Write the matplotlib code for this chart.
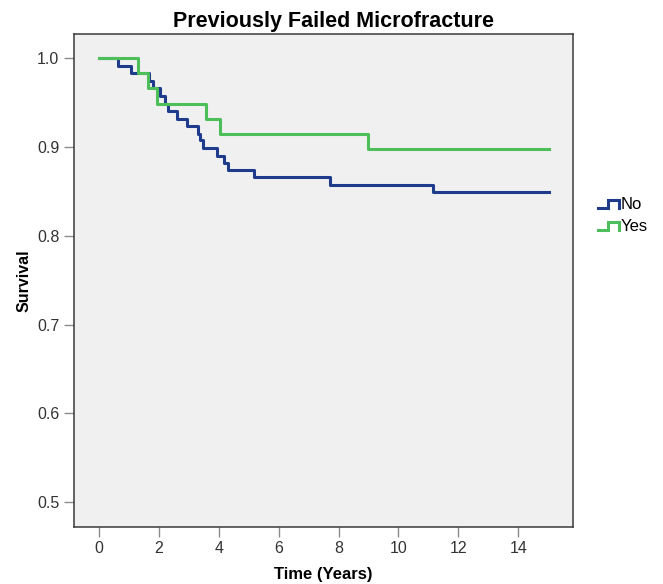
import numpy as np
import matplotlib
matplotlib.use("Agg")
import matplotlib.pyplot as plt
from matplotlib.legend_handler import HandlerBase
from matplotlib.lines import Line2D

plt.rcParams['font.family'] = ['Liberation Sans', 'DejaVu Sans']

# -------------------------------------------------------
# Data
# -------------------------------------------------------
# group "No": event times (years) and survival after each step
t_no = [0.0, 0.65, 1.06, 1.68, 1.79, 2.04, 2.20, 2.31, 2.59, 2.95,
        3.32, 3.37, 3.48, 3.95, 4.17, 4.32, 5.18, 7.71, 11.14, 15.03]
s_no = [1.000, 0.991, 0.983, 0.975, 0.966, 0.958, 0.949, 0.941, 0.932, 0.924,
        0.915, 0.908, 0.899, 0.890, 0.882, 0.874, 0.866, 0.857, 0.849, 0.849]

# group "Yes"
t_yes = [0.0, 1.29, 1.62, 1.93, 3.57, 4.04, 8.97, 15.03]
s_yes = [1.000, 0.983, 0.966, 0.949, 0.932, 0.915, 0.898, 0.898]

groups = ["No", "Yes"]
colors = ["#1f3b8c", "#4cbf5a"]

x_ticks = [0, 2, 4, 6, 8, 10, 12, 14]
y_ticks = [0.5, 0.6, 0.7, 0.8, 0.9, 1.0]


# -------------------------------------------------------
# legend icon like the SPSS step glyph
# -------------------------------------------------------
class StepHandler(HandlerBase):
    def create_artists(self, legend, orig_handle, xdescent, ydescent,
                       width, height, fontsize, trans):
        xs = np.array([0.0, 0.45, 0.45, 1.0, 1.0]) * width - xdescent
        ys = np.array([0.05, 0.05, 0.75, 0.75, 0.05]) * height - ydescent
        line = Line2D(xs, ys, color=orig_handle.get_color(), lw=2.2,
                      solid_joinstyle='miter')
        line.set_transform(trans)
        return [line]


# -------------------------------------------------------
# Plot
# -------------------------------------------------------
fig = plt.figure(figsize=(6.63, 5.84), dpi=100)
ax = fig.add_axes([74 / 663, 1 - 526.7 / 584, (573.3 - 74) / 663, (526.7 - 34) / 584])
ax.set_facecolor("#f0f0f0")

h_no, = ax.step(t_no, s_no, where='post', color=colors[0], lw=2.2, label=groups[0])
h_yes, = ax.step(t_yes, s_yes, where='post', color=colors[1], lw=2.2, label=groups[1])

ax.set_xlim(-0.835, 15.84)
ax.set_ylim(0.4722, 1.0274)
ax.set_xticks(x_ticks)
ax.set_yticks(y_ticks)
ax.set_yticklabels([f"{v:.1f}" for v in y_ticks])

ax.tick_params(axis='both', direction='out', length=7.5, width=1,
               color='#8c8c8c', labelsize=11.5, labelcolor='#333333', pad=3)
for sp in ax.spines.values():
    sp.set_color('#3a3a3a')
    sp.set_linewidth(1.1)

ax.set_xlabel("Time (Years)", fontsize=12, fontweight='bold', labelpad=8)
ax.set_ylabel("Survival", fontsize=11.5, fontweight='bold', labelpad=4)
ax.set_title("Previously Failed Microfracture", fontsize=15.5,
             fontweight='bold', x=0.52, pad=5)

fig.legend(handles=[h_no, h_yes], labels=groups, loc='center left',
           bbox_to_anchor=(598.3 / 663, 1 - 215.2 / 584), frameon=False,
           fontsize=12, handlelength=1.25, handletextpad=0.1,
           labelspacing=0.4, borderpad=0, borderaxespad=0,
           handler_map={Line2D: StepHandler()})

fig.savefig("out.png", dpi=100, facecolor='white')
